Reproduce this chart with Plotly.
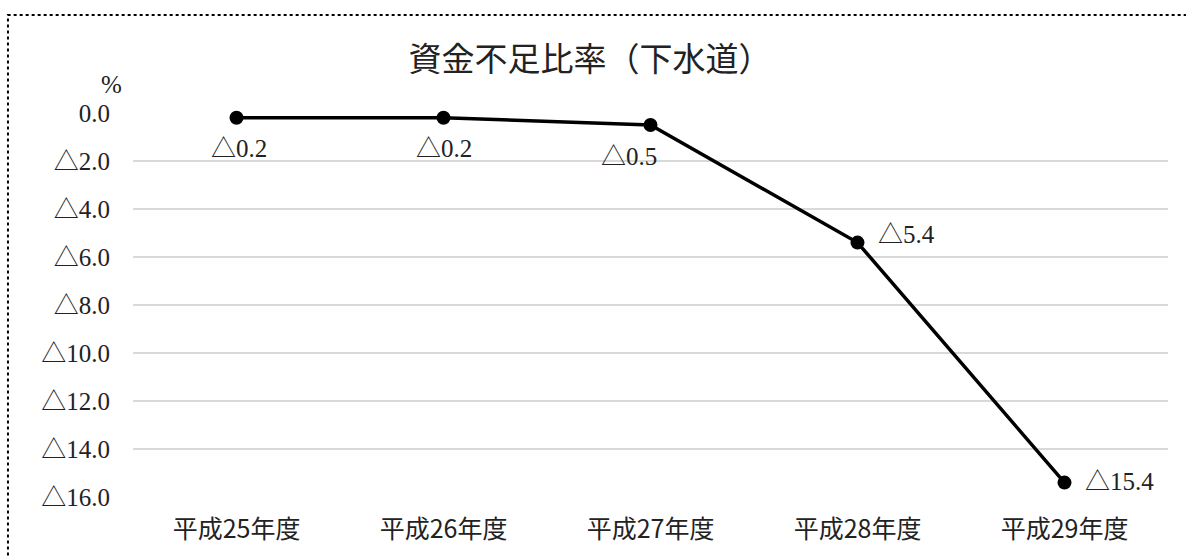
import plotly.graph_objects as go

categories = ["平成25年度", "平成26年度", "平成27年度", "平成28年度", "平成29年度"]
values = [-0.2, -0.2, -0.5, -5.4, -15.4]
tick_vals = [0, -2, -4, -6, -8, -10, -12, -14, -16]


def fmt(v):
    return ("△" if v < 0 else "") + f"{abs(v):.1f}"


tick_text = [fmt(v) for v in tick_vals]
labels = [fmt(v) for v in values]
# label placement (offsets in px from marker)
label_anchor = ["center", "center", "center", "left", "left"]
label_dx = [2, 0, -22, 18, 18]
label_dy = [-31, -31, -31, 8, 1]

FONT = "Liberation Serif, Noto Sans CJK JP, DejaVu Serif"
CJK = "Noto Sans CJK JP"
TXT = "#222222"

xs = list(range(len(categories)))

fig = go.Figure()
fig.add_trace(go.Scatter(
    x=xs,
    y=values,
    mode="lines+markers",
    line=dict(color="black", width=3.5),
    marker=dict(color="black", size=14),
    cliponaxis=False,
    showlegend=False,
    hoverinfo="skip",
))

annotations = [dict(text="%", xref="paper", yref="paper",
                    x=-0.0203, y=1.073, xanchor="center", yanchor="middle",
                    showarrow=False,
                    font=dict(family=FONT, size=25, color=TXT))]
for x, y, t, a, dx, dy in zip(xs, values, labels, label_anchor, label_dx, label_dy):
    annotations.append(dict(x=x, y=y, xref="x", yref="y", text=t,
                            showarrow=False, xanchor=a, yanchor="middle",
                            xshift=dx, yshift=dy,
                            font=dict(family=FONT, size=25, color=TXT)))

fig.update_layout(
    width=1186, height=558,
    margin=dict(l=133, r=18, t=113, b=61),
    paper_bgcolor="white", plot_bgcolor="white",
    font=dict(family=FONT, size=24, color=TXT),
    title=dict(text="資金不足比率（下水道）", x=0.4975, xanchor="center",
               y=0.894, yanchor="middle",
               font=dict(family=CJK, size=33, color=TXT)),
    xaxis=dict(range=[-0.5, 4.5], tickvals=xs,
               ticktext=categories, showgrid=False, zeroline=False,
               showline=False, ticks="", ticklabelstandoff=15,
               tickfont=dict(family=CJK, size=25, color=TXT)),
    yaxis=dict(range=[-16, 0], tickvals=tick_vals, ticktext=tick_text,
               showgrid=True, gridcolor="#d9d9d9", gridwidth=1.5,
               zeroline=False, showline=False, ticks="", ticklabelstandoff=22,
               tickfont=dict(family=FONT, size=25, color=TXT)),
    annotations=annotations,
    shapes=[dict(type="rect", xref="paper", yref="paper",
                 x0=-0.1208, x1=1.05, y0=-0.3, y1=1.255,
                 line=dict(color="black", width=2, dash="dot"))],
)

fig.write_html("out.html", config={"displayModeBar": False},
               post_script="document.body.style.margin='0';")
